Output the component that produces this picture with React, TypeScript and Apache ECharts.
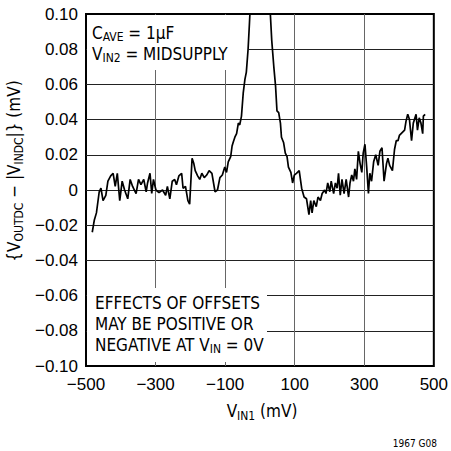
import React, { useEffect, useRef } from 'react';
import * as echarts from 'echarts';

// ---- data ----
const vin1Mv: number[] = [
  -482, -476, -470, -462, -457, -451, -443, -437, -429, -422, -416, -410, -403, -396, -389, -380,
  -373, -366, -356, -349, -342, -334, -327, -323, -316, -311, -306, -299, -290, -280, -271, -266,
  -259, -252, -245, -240, -233, -225, -221, -214, -207, -202, -195, -190, -186, -179, -173, -167,
  -160, -153, -146, -138, -129, -122, -115, -108, -101, -96, -91, -84, -80, -77, -72, -67,
  -62, -58, -53, -48, -43, -39, -34, -30, -25, 0, 25, 30, 34, 40, 45, 49,
  54, 59, 62, 68, 73, 78, 82, 89, 94, 99, 105, 113, 120, 127, 134, 141,
  146, 150, 155, 162, 167, 174, 179, 186, 190, 195, 201, 205, 212, 217, 222, 226,
  231, 236, 242, 248, 255, 259, 264, 269, 273, 278, 283, 288, 293, 297, 302, 307,
  312, 316, 321, 327, 333, 340, 345, 351, 357, 364, 368, 373, 381, 387, 392, 397,
  401, 406, 411, 416, 420, 425, 430, 436, 441, 449, 453, 458, 463, 468, 470, 475,
];
const deltaMv: number[] = [
  -0.024, -0.017, -0.013, -0.001, 0.001, -0.006, -0.003, 0.005, 0.008, 0.0095, 0.002, 0.0095, -0.006, 0.005, 0, -0.005,
  0.006, 0.002, -0.002, 0.006, 0.003, 0.006, -0.001, 0.004, 0.0095, -0.002, 0.006, 0, -0.0015, 0, -0.003, 0.002,
  -0.005, 0.005, 0.006, 0.003, 0.008, 0.0095, 0.001, 0.002, -0.006, -0.008, 0.018, 0.015, 0.011, 0.008, 0.006, 0.0095,
  0.007, 0.0085, 0.011, 0.0095, -0.001, 0, 0.007, 0.0085, 0.013, 0.01, 0.016, 0.019, 0.025, 0.027, 0.03, 0.032,
  0.038, 0.037, 0.042, 0.055, 0.063, 0.067, 0.08, 0.095, 0.115, 0.16, 0.12, 0.1, 0.085, 0.07, 0.059, 0.045,
  0.044, 0.038, 0.03, 0.027, 0.021, 0.019, 0.013, 0.01, 0.004, 0.0085, 0.0095, 0.011, 0.001, -0.004, -0.005, -0.014,
  -0.006, -0.013, -0.006, -0.0095, -0.004, -0.006, -0.002, 0, -0.002, 0.004, -0.001, 0.005, -0.002, 0.004, 0.001, 0.0095,
  -0.003, 0.006, -0.002, 0.006, -0.004, 0.004, 0.0085, 0.005, 0.012, 0.006, 0.022, 0.015, 0.01, 0.021, 0.026, 0.013,
  -0.002, 0.0095, 0.005, 0.016, 0.02, 0.014, 0.022, 0.024, 0.005, 0.015, 0.018, 0.014, 0.011, 0.023, 0.028, 0.028,
  0.031, 0.032, 0.033, 0.034, 0.039, 0.043, 0.04, 0.028, 0.038, 0.043, 0.034, 0.041, 0.038, 0.032, 0.042, 0.043,
];

const X_MIN = -500;
const X_MAX = 500;
const X_STEP = 200;
const Y_MIN = -0.1;
const Y_MAX = 0.1;
const Y_STEP = 0.02;

// ---- layout ----
const GRID = { left: 86, top: 14, width: 352, height: 352 };
const TICK_FONT = "'Liberation Sans', Arial, sans-serif";
const NOTE_FONT = "'DejaVu Sans Condensed', 'Liberation Sans', sans-serif";
const MINUS = '\u2212';

function fmtX(v: number): string {
  const real = Math.round(v + X_MIN);
  return real < 0 ? MINUS + Math.abs(real) : String(real);
}
function fmtY(v: number): string {
  if (Math.abs(v) < 1e-9) return '0';
  return (v < 0 ? MINUS : '') + Math.abs(v).toFixed(2);
}

const subRich = (size: number) => ({
  s: { fontSize: Math.round(size * 0.72), fontFamily: NOTE_FONT, fill: '#000', color: '#000', lineHeight: 12, verticalAlign: 'bottom' },
});

export default function App() {
  const ref = useRef<HTMLDivElement>(null);
  useEffect(() => {
    if (!ref.current) return;
    const chart = echarts.init(ref.current, undefined, { renderer: 'svg' });
    const points = vin1Mv.map((x, i) => [x - X_MIN, deltaMv[i]]);
    const noteSize = 17;
    const noteStyle = (text: string, extra: any = {}) => ({
      text,
      fontSize: noteSize,
      fontFamily: NOTE_FONT,
      fill: '#000',
      lineHeight: 21,
      rich: subRich(noteSize),
      ...extra,
    });
    chart.setOption({
      animation: false,
      backgroundColor: '#fff',
      grid: {
        left: GRID.left,
        top: GRID.top,
        width: GRID.width,
        height: GRID.height,
        show: true,
        borderColor: '#000',
        borderWidth: 2,
        backgroundColor: 'transparent',
      },
      xAxis: {
        type: 'value',
        min: 0,
        max: X_MAX - X_MIN,
        interval: X_STEP,
        axisLine: { show: false },
        axisTick: { show: false },
        axisLabel: {
          formatter: fmtX,
          fontSize: 17,
          fontFamily: TICK_FONT,
          color: '#000',
          margin: 10,
        },
        splitLine: { show: true, showMinLine: false, showMaxLine: false, lineStyle: { color: '#666', width: 1 } },
      },
      yAxis: {
        type: 'value',
        min: Y_MIN,
        max: Y_MAX,
        interval: Y_STEP,
        axisLine: { show: false },
        axisTick: { show: false },
        axisLabel: {
          formatter: fmtY,
          fontSize: 17,
          fontFamily: TICK_FONT,
          color: '#000',
          margin: 8,
        },
        splitLine: { show: true, showMinLine: false, showMaxLine: false, lineStyle: { color: '#222', width: 1 } },
      },
      series: [
        {
          type: 'line',
          data: points,
          showSymbol: false,
          symbol: 'none',
          clip: true,
          z: 20,
          lineStyle: { color: '#000', width: 1.7 },
        },
      ],
      graphic: [
        { type: 'rect', z: 10, shape: { x: GRID.left + 1, y: GRID.top + 1, width: 162, height: 55 }, style: { fill: '#fff' } },
        { type: 'rect', z: 10, shape: { x: GRID.left + 1, y: 288, width: 180, height: 74 }, style: { fill: '#fff' } },
        {
          type: 'text', z: 30, x: 92, y: 22,
          style: noteStyle('C{s|AVE} = 1\u00b5F\nV{s|IN2} = MIDSUPPLY', { align: 'left', verticalAlign: 'top', textAlign: 'left', textVerticalAlign: 'top' }),
        },
        {
          type: 'text', z: 30, x: 95, y: 292,
          style: noteStyle('EFFECTS OF OFFSETS\nMAY BE POSITIVE OR\nNEGATIVE AT V{s|IN} = 0V', { align: 'left', verticalAlign: 'top', textAlign: 'left', textVerticalAlign: 'top' }),
        },
        {
          type: 'text', z: 30, x: 262, y: 411,
          style: noteStyle('V{s|IN1} (mV)', { align: 'center', verticalAlign: 'middle', textAlign: 'center', textVerticalAlign: 'middle' }),
        },
        {
          type: 'text', z: 30, x: 14, y: 171, rotation: Math.PI / 2,
          style: noteStyle('{V{s|OUTDC} \u2212 |V{s|INDC}|} (mV)', { align: 'center', verticalAlign: 'middle', textAlign: 'center', textVerticalAlign: 'middle' }),
        },
        {
          type: 'text', z: 30, x: 437, y: 443,
          style: { text: '1967 G08', fontSize: 10, fontFamily: NOTE_FONT, fill: '#000', align: 'right', verticalAlign: 'middle', textAlign: 'right', textVerticalAlign: 'middle' },
        },
      ],
    });
    return () => chart.dispose();
  }, []);
  return <div ref={ref} style={{ position: 'fixed', left: 0, top: 0, width: 451, height: 451, background: '#fff' }} />;
}
